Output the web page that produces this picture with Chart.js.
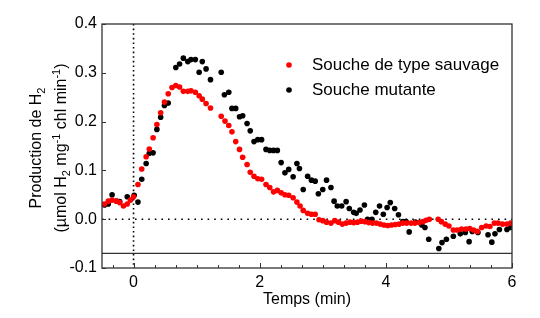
<!DOCTYPE html>
<html lang="fr">
<head>
<meta charset="UTF-8">
<title>Production de H2</title>
<script src="https://cdn.jsdelivr.net/npm/chart.js"></script>
<style>
    html, body { margin: 0; padding: 0; background: #fff; }
    #wrap { width: 540px; height: 318px; }
</style>
</head>
<body>
<div id="wrap"><canvas id="h2Chart" width="540" height="318"></canvas></div>
<script>
    // Souche de type sauvage (points rouges)
    const wildTime = [-0.46, -0.40, -0.34, -0.27, -0.22, -0.16, -0.10, -0.05, 0.00, 0.07,
        0.13, 0.20, 0.25, 0.31, 0.37, 0.43, 0.49, 0.55, 0.61, 0.67,
        0.73, 0.79, 0.86, 0.91, 0.98, 1.04, 1.09, 1.15, 1.22, 1.39,
        1.45, 1.51, 1.56, 1.62, 1.68, 1.73, 1.80, 1.85, 1.91, 1.97,
        2.03, 2.10, 2.16, 2.22, 2.28, 2.34, 2.40, 2.46, 2.53, 2.59,
        2.64, 2.69, 2.76, 2.82, 2.88, 2.94, 3.00, 3.06, 3.13, 3.19,
        3.25, 3.31, 3.37, 3.43, 3.49, 3.55, 3.61, 3.67, 3.73, 3.79,
        3.85, 3.91, 3.97, 4.03, 4.09, 4.15, 4.21, 4.27, 4.33, 4.40,
        4.46, 4.53, 4.59, 4.64, 4.69, 4.83, 4.88, 4.94, 5.00, 5.07,
        5.13, 5.20, 5.27, 5.33, 5.39, 5.45, 5.52, 5.59, 5.65, 5.72,
        5.78, 5.85, 5.92, 5.98];
    const wildH2 = [0.031, 0.037, 0.039, 0.037, 0.034, 0.027, 0.031, 0.039, 0.046, 0.071,
        0.103, 0.128, 0.144, 0.167, 0.194, 0.218, 0.240, 0.257, 0.270, 0.274,
        0.271, 0.262, 0.262, 0.263, 0.260, 0.253, 0.246, 0.237, 0.228, 0.211,
        0.201, 0.192, 0.179, 0.159, 0.143, 0.127, 0.112, 0.096, 0.088, 0.083,
        0.082, 0.071, 0.065, 0.056, 0.059, 0.054, 0.050, 0.049, 0.044, 0.035,
        0.027, 0.018, 0.012, 0.010, 0.010, -0.001, -0.003, -0.006, -0.008, -0.003,
        -0.006, -0.010, -0.008, -0.006, -0.007, -0.006, -0.004, -0.005, -0.007, -0.008,
        -0.008, -0.010, -0.012, -0.013, -0.012, -0.011, -0.010, -0.008, -0.008, -0.008,
        -0.008, -0.007, -0.005, -0.002, 0.000, 0.000, -0.005, -0.010, -0.014, -0.022,
        -0.022, -0.020, -0.020, -0.019, -0.022, -0.025, -0.017, -0.014, -0.015, -0.008,
        -0.008, -0.010, -0.010, -0.008];

    // Souche mutante (points noirs)
    const mutTime = [-0.46, -0.40, -0.34, -0.27, -0.22, -0.10, 0.01, 0.07, 0.13, 0.20,
        0.25, 0.31, 0.37, 0.43, 0.49, 0.55, 0.67, 0.73, 0.79, 0.86,
        0.91, 0.98, 1.04, 1.09, 1.15, 1.22, 1.39, 1.44, 1.51, 1.56,
        1.62, 1.68, 1.73, 1.80, 1.85, 1.91, 1.97, 2.03, 2.10, 2.16,
        2.22, 2.28, 2.34, 2.40, 2.46, 2.53, 2.59, 2.63, 2.69, 2.76,
        2.82, 2.88, 2.93, 3.00, 3.06, 3.13, 3.18, 3.23, 3.30, 3.37,
        3.42, 3.49, 3.53, 3.59, 3.66, 3.71, 3.78, 3.84, 3.90, 3.96,
        4.02, 4.07, 4.14, 4.20, 4.27, 4.32, 4.37, 4.47, 4.57, 4.62,
        4.68, 4.84, 4.89, 4.96, 5.07, 5.18, 5.26, 5.32, 5.37, 5.46,
        5.62, 5.68, 5.73, 5.80, 5.92, 5.98];
    const mutH2 = [0.029, 0.031, 0.050, 0.037, 0.036, 0.046, 0.049, 0.035, 0.082, 0.114,
        0.135, 0.136, 0.184, 0.209, 0.233, 0.238, 0.311, 0.318, 0.330, 0.323,
        0.327, 0.327, 0.301, 0.323, 0.308, 0.286, 0.301, 0.255, 0.260, 0.227,
        0.227, 0.210, 0.212, 0.196, 0.181, 0.159, 0.163, 0.163, 0.143, 0.141,
        0.141, 0.141, 0.116, 0.095, 0.102, 0.087, 0.114, 0.104, 0.061, 0.088,
        0.080, 0.078, 0.052, 0.061, 0.080, 0.065, 0.037, 0.027, 0.027, 0.036,
        0.022, 0.014, 0.012, 0.019, 0.029, 0.000, 0.000, 0.014, 0.027, 0.010,
        0.024, 0.034, 0.022, 0.009, -0.005, -0.005, -0.026, -0.006, -0.012, -0.017,
        -0.041, -0.060, -0.048, -0.041, -0.035, -0.030, -0.027, -0.046, -0.025, -0.027,
        -0.032, -0.047, -0.030, -0.021, -0.021, -0.017];

    const seriesLabels = ['Souche de type sauvage', 'Souche mutante'];
    const seriesColors = ['#ff0000', '#000000'];
    const xTickValues = [0, 2, 4, 6];
    const yTickValues = [-0.1, 0.0, 0.1, 0.2, 0.3, 0.4];
    const zeroTime = 0;
    const zeroLevel = 0;
    const baselineLevel = -0.07;

    // titre de l'axe y, en morceaux pour les indices et exposants
    const yTitleLines = [
        [['Production de H'], ['2', 'sub']],
        [['(\u00b5mol H'], ['2', 'sub'], [' mg'], ['-1', 'sup'], [' chl min'], ['-1', 'sup'], [')']]
    ];

    const toPoints = (xs, ys) => xs.map((t, i) => ({ x: t, y: ys[i] }));

    const font = 'Liberation Sans, Arial, sans-serif';

    function drawRotatedRich(ctx, parts, cx, cy) {
        ctx.save();
        ctx.translate(cx, cy);
        ctx.rotate(-Math.PI / 2);
        ctx.textBaseline = 'middle';
        ctx.fillStyle = '#000';
        const fontOf = p => (p[1] ? 11 : 16) + 'px ' + font;
        const widths = parts.map(p => { ctx.font = fontOf(p); return ctx.measureText(p[0]).width; });
        let x = -widths.reduce((s, w) => s + w, 0) / 2;
        parts.forEach((p, i) => {
            ctx.font = fontOf(p);
            const dy = p[1] === 'sub' ? 5 : p[1] === 'sup' ? -5 : 0;
            ctx.fillText(p[0], x, dy);
            x += widths[i];
        });
        ctx.restore();
    }

    // lignes de repère, cadre, graduations intérieures, titre y et légende
    const decorPlugin = {
        id: 'decor',
        beforeDatasetsDraw(chart) {
            const { ctx, chartArea: a, scales: { x, y } } = chart;
            const x0 = x.getPixelForValue(zeroTime);
            const y0 = y.getPixelForValue(zeroLevel);
            const yb = y.getPixelForValue(baselineLevel);
            ctx.save();
            ctx.strokeStyle = '#000';
            ctx.lineWidth = 1.6;
            ctx.setLineDash([1.6, 3]);
            ctx.beginPath();
            ctx.moveTo(x0, a.top);
            ctx.lineTo(x0, a.bottom);
            ctx.stroke();
            ctx.setLineDash([1.6, 5]);
            ctx.beginPath();
            ctx.moveTo(a.left, y0);
            ctx.lineTo(a.right, y0);
            ctx.stroke();
            ctx.setLineDash([]);
            ctx.lineWidth = 1.2;
            ctx.strokeStyle = '#333';
            ctx.beginPath();
            ctx.moveTo(a.left, yb);
            ctx.lineTo(a.right, yb);
            ctx.stroke();
            ctx.restore();
        },
        afterDatasetsDraw(chart) {
            const { ctx, chartArea: a, scales: { x, y } } = chart;
            ctx.save();
            ctx.strokeStyle = '#333';
            ctx.lineWidth = 1.3;
            ctx.strokeRect(a.left, a.top, a.right - a.left, a.bottom - a.top);

            ctx.lineWidth = 1;
            ctx.beginPath();
            // petites graduations toutes les 20 s
            for (let k = -1; k <= 18; k++) {
                const px = Math.round(x.getPixelForValue(k / 3)) + 0.5;
                const len = k % 6 === 0 ? 5 : 3;
                ctx.moveTo(px, a.bottom);
                ctx.lineTo(px, a.bottom - len);
            }
            yTickValues.forEach(v => {
                const py = Math.round(y.getPixelForValue(v)) + 0.5;
                ctx.moveTo(a.left, py);
                ctx.lineTo(a.left + 4, py);
            });
            ctx.stroke();

            const midY = (a.top + a.bottom) / 2 + 2;
            drawRotatedRich(ctx, yTitleLines[0], 37, midY);
            drawRotatedRich(ctx, yTitleLines[1], 62, midY);

            // légende
            ctx.font = '17px ' + font;
            ctx.textBaseline = 'middle';
            seriesLabels.forEach((label, i) => {
                const ly = 65 + i * 25;
                ctx.fillStyle = seriesColors[i];
                ctx.beginPath();
                ctx.arc(289, ly, 2.8, 0, Math.PI * 2);
                ctx.fill();
                ctx.fillStyle = '#000';
                ctx.fillText(label, 312, ly);
            });
            ctx.restore();
        }
    };

    const config = {
        type: 'scatter',
        data: {
            datasets: [
                {
                    label: seriesLabels[0],
                    data: toPoints(wildTime, wildH2),
                    backgroundColor: seriesColors[0],
                    pointRadius: 2.8,
                    pointBorderWidth: 0
                },
                {
                    label: seriesLabels[1],
                    data: toPoints(mutTime, mutH2),
                    backgroundColor: seriesColors[1],
                    pointRadius: 2.8,
                    pointBorderWidth: 0
                }
            ]
        },
        options: {
            responsive: false,
            animation: false,
            events: [],
            layout: { padding: { top: 24, right: 28, left: 0, bottom: 0 } },
            plugins: {
                legend: { display: false },
                tooltip: { enabled: false }
            },
            scales: {
                x: {
                    type: 'linear',
                    min: -0.5,
                    max: 6,
                    grid: { display: false, drawTicks: false },
                    border: { display: false },
                    afterBuildTicks: s => { s.ticks = xTickValues.map(v => ({ value: v })); },
                    afterFit: s => { s.height = 50; },
                    ticks: {
                        color: '#000',
                        padding: 5,
                        maxRotation: 0,
                        font: { family: font, size: 16 }
                    },
                    title: {
                        display: true,
                        text: 'Temps (min)',
                        color: '#000',
                        font: { family: font, size: 16 },
                        padding: { top: 0, bottom: 9 }
                    }
                },
                y: {
                    min: -0.1,
                    max: 0.4,
                    grid: { display: false, drawTicks: false },
                    border: { display: false },
                    afterBuildTicks: s => { s.ticks = yTickValues.map(v => ({ value: v })); },
                    afterFit: s => { s.width = 102; },
                    ticks: {
                        color: '#000',
                        padding: 5,
                        font: { family: font, size: 16 },
                        callback: v => v.toFixed(1)
                    },
                    title: { display: false }
                }
            }
        },
        plugins: [decorPlugin]
    };

    const h2Chart = new Chart(document.getElementById('h2Chart'), config);
</script>
</body>
</html>
